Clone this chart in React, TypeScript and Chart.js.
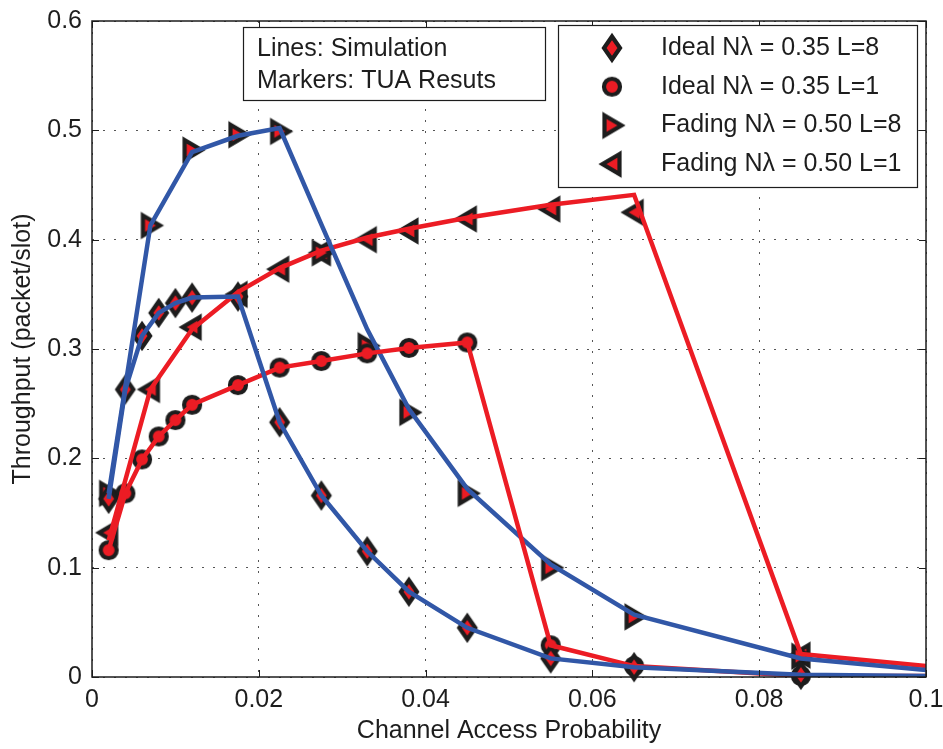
import React, { useEffect, useRef } from "react";
import { Chart, registerables } from "chart.js";

Chart.register(...registerables);

// Channel access probability at which each curve is sampled
const idealAccessProb = [0.002, 0.004, 0.006, 0.008, 0.01, 0.012, 0.0175, 0.0225, 0.0275, 0.033, 0.038, 0.045, 0.055, 0.065, 0.085];
const fadingAccessProb = [0.002, 0.007, 0.012, 0.0175, 0.0225, 0.0275, 0.033, 0.038, 0.045, 0.055, 0.065, 0.085];
const simEndProb = 0.1;

// Analytical (TUA) results, drawn as markers
const idealL8Tua = [0.163, 0.263, 0.312, 0.333, 0.342, 0.347, 0.348, 0.233, 0.166, 0.115, 0.078, 0.045, 0.017, 0.009, 0.002];
const idealL1Tua = [0.116, 0.168, 0.199, 0.22, 0.235, 0.249, 0.267, 0.283, 0.289, 0.296, 0.301, 0.306, 0.029, 0.01, 0.001];
const fadingL8Tua = [0.168, 0.413, 0.482, 0.496, 0.499, 0.388, 0.303, 0.242, 0.168, 0.1, 0.055, 0.019];
const fadingL1Tua = [0.132, 0.263, 0.32, 0.35, 0.373, 0.388, 0.4, 0.408, 0.419, 0.428, 0.425, 0.02];

// Simulation results, drawn as lines (last value is at simEndProb)
const idealL8Sim = [0.163, 0.263, 0.312, 0.333, 0.342, 0.347, 0.348, 0.233, 0.166, 0.115, 0.078, 0.045, 0.017, 0.009, 0.002, 0.001];
const idealL1Sim = [0.116, 0.168, 0.199, 0.22, 0.235, 0.249, 0.267, 0.283, 0.289, 0.296, 0.301, 0.306, 0.029, 0.01, 0.001, 0.001];
const fadingL8Sim = [0.168, 0.413, 0.48, 0.495, 0.502, 0.414, 0.318, 0.245, 0.172, 0.103, 0.057, 0.017, 0.0065];
const fadingL1Sim = [0.125, 0.263, 0.318, 0.352, 0.374, 0.39, 0.402, 0.41, 0.42, 0.432, 0.441, 0.021, 0.01];

const seriesLabels = [
  "Ideal N\u03bb = 0.35 L=8",
  "Ideal N\u03bb = 0.35 L=1",
  "Fading N\u03bb = 0.50 L=8",
  "Fading N\u03bb = 0.50 L=1",
];
const noteLines = ["Lines: Simulation", "Markers: TUA Resuts"];

const xTickLabels = ["0", "0.02", "0.04", "0.06", "0.08", "0.1"];
const yTickLabels = ["0", "0.1", "0.2", "0.3", "0.4", "0.5", "0.6"];

const FONT = '"Liberation Sans", Arial, Helvetica, sans-serif';
const INK = "#1d1d1d";
const RED = "#ec1c24";
const BLUE = "#3157a7";

type MarkerKind = "diamond" | "circle" | "right" | "left";

function makeMarker(kind: MarkerKind): HTMLCanvasElement {
  const c = document.createElement("canvas");
  c.width = 36;
  c.height = 36;
  const g = c.getContext("2d")!;
  g.translate(18, 18);
  g.beginPath();
  if (kind === "diamond") {
    g.moveTo(0, -11.5);
    g.lineTo(8, 0);
    g.lineTo(0, 11.5);
    g.lineTo(-8, 0);
    g.closePath();
  } else if (kind === "circle") {
    g.arc(0, 0, 8, 0, Math.PI * 2);
  } else {
    const s = kind === "right" ? 1 : -1;
    g.moveTo(-7.5 * s, -10);
    g.lineTo(9.5 * s, 0);
    g.lineTo(-7.5 * s, 10);
    g.closePath();
  }
  g.fillStyle = RED;
  g.fill();
  g.lineWidth = 4.2;
  g.lineJoin = "miter";
  g.strokeStyle = INK;
  g.stroke();
  return c;
}

const toPoints = (xs: number[], ys: number[]) => ys.map((y, i) => ({ x: xs[i], y }));

export default function App() {
  const canvasRef = useRef<HTMLCanvasElement | null>(null);

  useEffect(() => {
    const canvas = canvasRef.current;
    if (!canvas) return;

    const markers = {
      diamond: makeMarker("diamond"),
      circle: makeMarker("circle"),
      right: makeMarker("right"),
      left: makeMarker("left"),
    };
    const legendMarkers = [markers.diamond, markers.circle, markers.right, markers.left];

    const lineSet = (label: string, xs: number[], ys: number[], color: string) => ({
      label,
      data: toPoints([...xs, simEndProb], ys),
      borderColor: color,
      backgroundColor: color,
      borderWidth: 4.5,
      borderJoinStyle: "miter" as const,
      pointRadius: 0,
      tension: 0,
      showLine: true,
      fill: false,
    });

    const markerSet = (label: string, xs: number[], ys: number[], style: HTMLCanvasElement) => ({
      label,
      data: toPoints(xs, ys),
      showLine: false,
      pointStyle: style,
      pointRadius: 10,
      borderColor: INK,
      backgroundColor: RED,
      clip: false as const,
    });

    // Boxes, frame and inward tick marks drawn over the data
    const framePlugin = {
      id: "frame",
      afterDatasetsDraw(chart: any) {
        const { ctx, chartArea: a, scales } = chart;
        ctx.save();
        ctx.strokeStyle = INK;
        ctx.lineWidth = 1;
        const tl = 7;
        for (const t of scales.x.ticks) {
          const px = Math.round(scales.x.getPixelForValue(t.value)) + 0.5;
          ctx.beginPath();
          ctx.moveTo(px, a.bottom);
          ctx.lineTo(px, a.bottom - tl);
          ctx.moveTo(px, a.top);
          ctx.lineTo(px, a.top + tl);
          ctx.stroke();
        }
        for (const t of scales.y.ticks) {
          const py = Math.round(scales.y.getPixelForValue(t.value)) + 0.5;
          ctx.beginPath();
          ctx.moveTo(a.left, py);
          ctx.lineTo(a.left + tl, py);
          ctx.moveTo(a.right, py);
          ctx.lineTo(a.right - tl, py);
          ctx.stroke();
        }
        ctx.lineWidth = 1.5;
        ctx.strokeRect(a.left, a.top, a.right - a.left, a.bottom - a.top);

        ctx.font = `25px ${FONT}`;
        ctx.textBaseline = "middle";
        ctx.textAlign = "left";

        // Note box
        const nb = { x: a.left + 151, y: a.top + 6, w: 302, h: 73 };
        ctx.fillStyle = "#ffffff";
        ctx.fillRect(nb.x, nb.y, nb.w, nb.h);
        ctx.lineWidth = 1.2;
        ctx.strokeRect(nb.x + 0.5, nb.y + 0.5, nb.w, nb.h);
        ctx.fillStyle = INK;
        noteLines.forEach((s, i) => ctx.fillText(s, nb.x + 14, nb.y + 22 + i * 32));

        // Legend box
        const lb = { x: a.left + 466, y: a.top + 4, w: 359, h: 162 };
        ctx.fillStyle = "#ffffff";
        ctx.fillRect(lb.x, lb.y, lb.w, lb.h);
        ctx.strokeRect(lb.x + 0.5, lb.y + 0.5, lb.w, lb.h);
        seriesLabels.forEach((s, i) => {
          const cy = lb.y + 23 + i * 38.7;
          const m = legendMarkers[i];
          ctx.drawImage(m, lb.x + 54 - m.width / 2, cy - m.height / 2);
          ctx.fillStyle = INK;
          ctx.fillText(s, lb.x + 103, cy);
        });
        ctx.restore();
      },
    };

    const tickFont = { family: FONT, size: 25 };

    const chart = new Chart(canvas, {
      type: "scatter",
      data: {
        datasets: [
          lineSet(seriesLabels[0], idealAccessProb, idealL8Sim, BLUE),
          lineSet(seriesLabels[1], idealAccessProb, idealL1Sim, RED),
          lineSet(seriesLabels[2], fadingAccessProb, fadingL8Sim, BLUE),
          lineSet(seriesLabels[3], fadingAccessProb, fadingL1Sim, RED),
          markerSet(seriesLabels[0], idealAccessProb, idealL8Tua, markers.diamond),
          markerSet(seriesLabels[1], idealAccessProb, idealL1Tua, markers.circle),
          markerSet(seriesLabels[2], fadingAccessProb, fadingL8Tua, markers.right),
          markerSet(seriesLabels[3], fadingAccessProb, fadingL1Tua, markers.left),
        ] as any,
      },
      options: {
        responsive: false,
        animation: false,
        events: [],
        layout: { padding: { top: 21, right: 17, left: 0, bottom: 0 } },
        plugins: {
          legend: { display: false },
          tooltip: { enabled: false },
        },
        scales: {
          x: {
            type: "linear",
            min: 0,
            max: 0.1,
            afterFit: (s: any) => {
              s.height = 72;
              s.paddingLeft = 0;
              s.paddingRight = 0;
            },
            ticks: {
              stepSize: 0.02,
              autoSkip: false,
              maxRotation: 0,
              padding: 8,
              color: INK,
              font: tickFont,
              callback: (_v: any, i: number) => xTickLabels[i],
            },
            grid: { color: "#555555", lineWidth: 1, drawTicks: false },
            border: { display: false, dash: [2, 9] },
            title: {
              display: true,
              text: "Channel Access Probability",
              color: INK,
              font: tickFont,
              padding: { top: 0, bottom: 3 },
            },
          },
          y: {
            type: "linear",
            min: 0,
            max: 0.6,
            afterFit: (s: any) => {
              s.width = 92;
              s.paddingTop = 0;
              s.paddingBottom = 0;
            },
            ticks: {
              stepSize: 0.1,
              autoSkip: false,
              padding: 10,
              color: INK,
              font: tickFont,
              callback: (_v: any, i: number) => yTickLabels[i],
            },
            grid: { color: "#555555", lineWidth: 1, drawTicks: false },
            border: { display: false, dash: [2, 9] },
            title: {
              display: true,
              text: "Throughput (packet/slot)",
              color: INK,
              font: tickFont,
              padding: { top: 8, bottom: 0 },
            },
          },
        },
      } as any,
      plugins: [framePlugin],
    });

    return () => chart.destroy();
  }, []);

  return (
    <div style={{ position: "absolute", left: 0, top: 0, width: 943, height: 749, background: "#ffffff" }}>
      <canvas ref={canvasRef} width={943} height={749} style={{ display: "block" }} />
    </div>
  );
}
